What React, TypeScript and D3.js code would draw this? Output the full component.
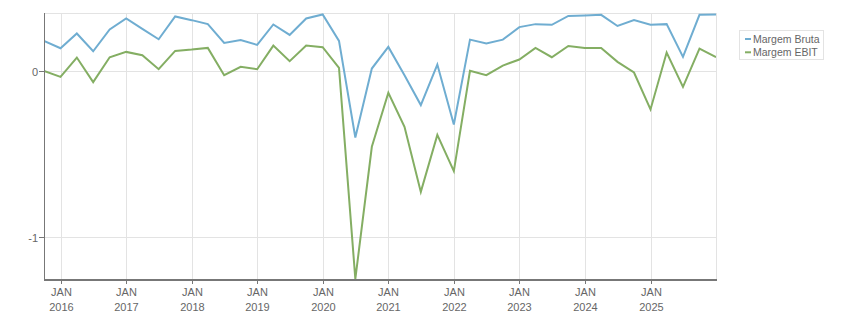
import { useEffect, useRef } from 'react';
import * as d3 from 'd3';

// quarterly points, Oct 2015 .. Jan 2026
const startQuarter = new Date(2015, 9, 1);
const seriesNames = ['Margem Bruta', 'Margem EBIT'];
const seriesColors = ['#6fadd1', '#84ae63'];

const margemBruta = [
  0.182, 0.138, 0.227, 0.120, 0.251, 0.317, 0.254, 0.192, 0.329, 0.307,
  0.283, 0.170, 0.188, 0.158, 0.281, 0.218, 0.317, 0.341, 0.182, -0.399,
  0.016, 0.146, -0.024, -0.204, 0.040, -0.321, 0.190, 0.166, 0.190, 0.265,
  0.283, 0.279, 0.332, 0.335, 0.339, 0.272, 0.307, 0.279, 0.283, 0.086,
  0.339, 0.341,
];
const margemEbit = [
  0.002, -0.034, 0.082, -0.066, 0.084, 0.116, 0.096, 0.012, 0.122, 0.130,
  0.140, -0.024, 0.026, 0.012, 0.154, 0.060, 0.154, 0.144, 0.020, -1.25,
  -0.455, -0.130, -0.335, -0.726, -0.383, -0.601, 0.002, -0.024, 0.034, 0.070,
  0.140, 0.084, 0.152, 0.140, 0.140, 0.056, -0.008, -0.230, 0.112, -0.094,
  0.136, 0.084,
];
const yTicks = [0, -1];
const xTickYears = [2016, 2017, 2018, 2019, 2020, 2021, 2022, 2023, 2024, 2025];

const dates = margemBruta.map((_, i) => d3.timeMonth.offset(startQuarter, i * 3));

export default function App() {
  const ref = useRef<SVGSVGElement>(null);

  useEffect(() => {
    const svg = d3.select(ref.current);
    svg.selectAll('*').remove();

    const left = 44, right = 716, top = 13, bottom = 279;
    const font = 'Liberation Sans, Arial, sans-serif';

    const x = d3.scaleTime().domain([dates[0], dates[dates.length - 1]]).range([left, right]);
    const y = d3.scaleLinear().domain([-1.25, 0.35]).range([bottom, top]);

    // grid + frame
    const grid = svg.append('g').attr('stroke', '#e3e3e3').attr('stroke-width', 1);
    xTickYears.forEach(yr => {
      const xx = Math.round(x(new Date(yr, 0, 1))) + 0.5;
      grid.append('line').attr('x1', xx).attr('x2', xx).attr('y1', top).attr('y2', bottom);
    });
    yTicks.forEach(t => {
      const yy = Math.round(y(t)) + 0.5;
      grid.append('line').attr('x1', left).attr('x2', right).attr('y1', yy).attr('y2', yy);
    });
    grid.append('line').attr('x1', left).attr('x2', right).attr('y1', top + 0.5).attr('y2', top + 0.5);
    grid.append('line').attr('x1', right + 0.5).attr('x2', right + 0.5).attr('y1', top).attr('y2', bottom);

    // lines
    svg.append('clipPath').attr('id', 'plot-clip')
      .append('rect').attr('x', left).attr('y', top).attr('width', right - left).attr('height', bottom - top + 1);
    const line = d3.line<number>()
      .x((_, i) => x(dates[i]))
      .y(d => y(d));
    [margemBruta, margemEbit].forEach((s, k) => {
      svg.append('path')
        .attr('d', line(s))
        .attr('fill', 'none')
        .attr('stroke', seriesColors[k])
        .attr('stroke-width', 2)
        .attr('stroke-linejoin', 'miter')
        .attr('clip-path', 'url(#plot-clip)');
    });

    // axes
    svg.append('line').attr('x1', left + 0.5).attr('x2', left + 0.5).attr('y1', top).attr('y2', bottom)
      .attr('stroke', '#777').attr('stroke-width', 1);
    svg.append('line').attr('x1', left).attr('x2', right + 1).attr('y1', bottom + 1).attr('y2', bottom + 1)
      .attr('stroke', '#777').attr('stroke-width', 2);

    yTicks.forEach(t => {
      const yy = Math.round(y(t)) + 0.5;
      svg.append('line').attr('x1', left - 5).attr('x2', left).attr('y1', yy).attr('y2', yy).attr('stroke', '#777');
      svg.append('text').attr('x', left - 6).attr('y', yy + 4)
        .attr('text-anchor', 'end').attr('font-family', font).attr('font-size', 11).attr('fill', '#666')
        .text(String(t));
    });

    xTickYears.forEach(yr => {
      const xx = Math.round(x(new Date(yr, 0, 1))) + 0.5;
      svg.append('line').attr('x1', xx).attr('x2', xx).attr('y1', bottom + 2).attr('y2', bottom + 5).attr('stroke', '#777');
      const t = svg.append('text').attr('text-anchor', 'middle').attr('font-family', font)
        .attr('font-size', 11).attr('fill', '#666');
      t.append('tspan').attr('x', xx).attr('y', 296).text('JAN');
      t.append('tspan').attr('x', xx).attr('y', 311).text(String(yr));
    });

    // legend
    const lg = svg.append('g');
    lg.append('rect').attr('x', 739.5).attr('y', 30.5).attr('width', 84).attr('height', 29)
      .attr('fill', '#fff').attr('stroke', '#e3e3e3');
    seriesNames.forEach((name, i) => {
      const ly = 39 + i * 13.3;
      lg.append('line').attr('x1', 745).attr('x2', 751).attr('y1', ly).attr('y2', ly)
        .attr('stroke', seriesColors[i]).attr('stroke-width', 2);
      lg.append('text').attr('x', 753).attr('y', ly + 4).attr('font-family', font)
        .attr('font-size', 10.5).attr('fill', '#666').text(name);
    });
  }, []);

  return (
    <svg ref={ref} width={851} height={313}
      style={{ position: 'absolute', left: 0, top: 0, display: 'block' }} />
  );
}
